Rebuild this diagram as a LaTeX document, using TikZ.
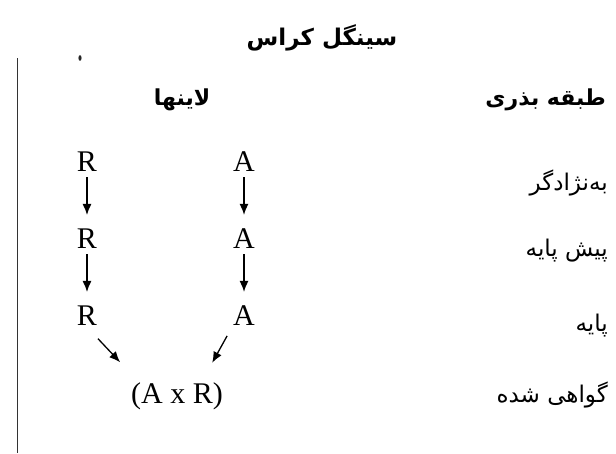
\documentclass[tikz,border=0pt]{standalone}
\usepackage{fontspec}
\setmainfont{Liberation Serif}
\newfontfamily\farsi[Script=Arabic]{DejaVu Sans}
\TeXXeTstate=1
\usetikzlibrary{arrows.meta}

\tikzset{
    pfeil/.style={line width=1.3pt, -{Latex[length=11pt,width=9pt]}},
    buchstabe/.style={font=\fontsize{30}{30}\selectfont, inner sep=1pt},
    stufe/.style={font=\farsi\fontsize{23}{26}\selectfont, anchor=east, inner sep=0pt},
    kopf/.style={font=\farsi\bfseries\fontsize{22}{26}\selectfont, inner sep=0pt},
    titel/.style={font=\farsi\bfseries\fontsize{23}{27}\selectfont, inner sep=0pt}
}

\begin{document}
\begin{tikzpicture}[x=1pt, y=-1pt]
    \useasboundingbox (0,0) rectangle (616,453);
    % Titel und Kopfzeile:
    \node[titel] (titel) at (322,38) {\beginR سینگل کراس\endR};
    \node[kopf] (lines) at (182,100) {\beginR لاینها\endR};
    \node[kopf, anchor=east] (klasse) at (606,100) {\beginR طبقه بذری\endR};
    % Rand:
    \draw[line width=1pt, black!80] (17,58) -- (17,453); % senkrechter Strich
    \fill[black!85] (80,58) ellipse (1.6 and 2.8); % Punkt
    % Linie R:
    \node[buchstabe] (r1) at (87,162) {R};
    \node[buchstabe] (r2) at (87,239) {R};
    \node[buchstabe] (r3) at (87,316) {R};
    % Linie A:
    \node[buchstabe] (a1) at (244,162) {A};
    \node[buchstabe] (a2) at (244,239) {A};
    \node[buchstabe] (a3) at (244,316) {A};
    % Kreuzung:
    \node[buchstabe] (kreuz) at (177,396) {(A x R)};
    % Stufen:
    \node[stufe] (s1) at (608,183) {\beginR به‌نژادگر\endR};
    \node[stufe] (s2) at (608,251) {\beginR پیش پایه\endR};
    \node[stufe] (s3) at (608,326) {\beginR پایه\endR};
    \node[stufe] (s4) at (608,395) {\beginR گواهی شده\endR};
    % Pfeile:
    \draw[pfeil, shorten <=4pt, shorten >=13pt] (r1) -- (r2);
    \draw[pfeil, shorten <=4pt, shorten >=13pt] (r2) -- (r3);
    \draw[pfeil, shorten <=4pt, shorten >=13pt] (a1) -- (a2);
    \draw[pfeil, shorten <=4pt, shorten >=13pt] (a2) -- (a3);
    \draw[pfeil, shorten <=16pt, shorten >=26pt] (r3.south) -- ([xshift=8pt]kreuz.north west);
    \draw[pfeil, shorten <=10pt, shorten >=21pt] (a3.south west) -- ([xshift=-22pt]kreuz.north east);
\end{tikzpicture}
\end{document}
